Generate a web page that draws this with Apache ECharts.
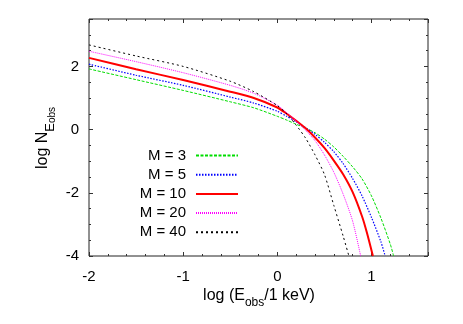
<!DOCTYPE html>
<html>
<head>
<meta charset="utf-8">
<script src="https://cdn.jsdelivr.net/npm/echarts@6/dist/echarts.min.js"></script>
<style>
html,body{margin:0;padding:0;background:#fff;}
#chart{width:463px;height:324px;}
</style>
</head>
<body>
<div id="chart"></div>
<script>
// ---- data ----
const seriesNames = ['M = 3', 'M = 5', 'M = 10', 'M = 20', 'M = 40'];

const xM3 = [-2, -1.5, -1, -0.5, -0.25, 0, 0.1, 0.2, 0.3, 0.4, 0.5, 0.6, 0.7, 0.8, 0.9, 1.0, 1.1, 1.2, 1.235];
const yM3 = [1.92, 1.58, 1.24, 0.88, 0.69, 0.42, 0.30, 0.17, 0.05, -0.10, -0.30, -0.55, -0.85, -1.18, -1.56, -2.10, -2.80, -3.63, -4.0];

const xM5 = [-2, -1.5, -1, -0.5, -0.25, 0, 0.1, 0.2, 0.3, 0.4, 0.5, 0.6, 0.7, 0.8, 0.9, 1.0, 1.1, 1.145];
const yM5 = [2.07, 1.72, 1.40, 1.03, 0.84, 0.58, 0.42, 0.25, 0.06, -0.15, -0.40, -0.70, -1.08, -1.55, -2.10, -2.78, -3.55, -4.0];

const xM10 = [-2, -1.5, -1, -0.5, -0.25, 0, 0.1, 0.2, 0.3, 0.4, 0.5, 0.6, 0.7, 0.8, 0.9, 0.95, 1.015];
const yM10 = [2.27, 1.91, 1.57, 1.20, 1.00, 0.70, 0.50, 0.28, 0.04, -0.25, -0.58, -0.98, -1.42, -1.98, -2.75, -3.25, -4.0];

const xM20 = [-2, -1.5, -1, -0.5, -0.25, 0, 0.1, 0.2, 0.3, 0.4, 0.5, 0.6, 0.7, 0.8, 0.885];
const yM20 = [2.48, 2.15, 1.80, 1.40, 1.15, 0.77, 0.53, 0.27, -0.02, -0.35, -0.80, -1.35, -2.05, -2.90, -4.0];

const xM40 = [-2, -1.5, -1, -0.5, -0.25, 0, 0.1, 0.2, 0.3, 0.4, 0.5, 0.6, 0.7, 0.76];
const yM40 = [2.68, 2.33, 2.00, 1.53, 1.20, 0.76, 0.50, 0.14, -0.27, -0.80, -1.42, -2.40, -3.38, -4.0];

const xTickLabels = [-2, -1, 0, 1];
const yTickLabels = [-4, -2, 0, 2];

// ---- styling ----
const FONT = "'Liberation Sans', Arial, Helvetica, sans-serif";
const styles = [
  {color: '#00dd00', width: 1, type: [3, 1.5]},
  {color: '#0000ff', width: 1.2, type: [1.5, 1.5]},
  {color: '#ff0000', width: 2, type: 'solid'},
  {color: '#ff00ff', width: 1, type: [1, 1]},
  {color: '#000000', width: 1, type: [2, 3]}
];
const xs = [xM3, xM5, xM10, xM20, xM40];
const ys = [yM3, yM5, yM10, yM20, yM40];

function pairs(x, y) { return x.map((v, i) => [v, y[i]]); }

const XMIN = -2, XMAX = 1.6, YMIN = -4, YMAX = 3.5;
const tickColor = '#333';

function labelFmt(list) {
  return function (v) {
    for (const t of list) { if (Math.abs(v - t) < 1e-6) return String(t); }
    return '';
  };
}

function xAx(pos, interval, len, labels) {
  return {
    type: 'value', min: XMIN, max: XMAX, interval: interval, position: pos,
    axisLine: {show: false, onZero: false},
    axisTick: {show: true, inside: true, length: len, lineStyle: {color: tickColor, width: 1}},
    axisLabel: labels ? {show: true, formatter: labelFmt(xTickLabels), color: '#000', fontSize: 15, fontFamily: FONT, margin: 13, showMaxLabel: false} : {show: false},
    splitLine: {show: false}
  };
}
function yAx(pos, interval, len, labels) {
  return {
    type: 'value', min: YMIN, max: YMAX, interval: interval, position: pos,
    axisLine: {show: false, onZero: false},
    axisTick: {show: true, inside: true, length: len, lineStyle: {color: tickColor, width: 1}},
    axisLabel: labels ? {show: true, formatter: labelFmt(yTickLabels), color: '#000', fontSize: 15, fontFamily: FONT, margin: 10, showMaxLabel: false} : {show: false},
    splitLine: {show: false}
  };
}

const chart = echarts.init(document.getElementById('chart'), null, {renderer: 'canvas'});
const option = {
  animation: false,
  backgroundColor: '#fff',
  grid: {left: 89, right: 35, top: 19, bottom: 68, show: true, borderColor: '#222', borderWidth: 1, backgroundColor: 'transparent', containLabel: false},
  xAxis: [xAx('bottom', 0.2, 2, true), xAx('bottom', 1, 4, false), xAx('top', 0.2, 2, false), xAx('top', 1, 4, false)],
  yAxis: [yAx('left', 0.5, 2, true), yAx('left', 2, 4, false), yAx('right', 0.5, 2, false), yAx('right', 2, 4, false)],
  legend: {
    orient: 'vertical', align: 'right', right: 224, top: 146, padding: 0,
    itemWidth: 42, itemHeight: 10, itemGap: 0.2,
    itemStyle: {opacity: 0, borderWidth: 0},
    textStyle: {fontSize: 15, fontFamily: FONT, color: '#000', lineHeight: 19, padding: [0, 5, 0, 0]},
    data: seriesNames
  },
  graphic: [
    {
      type: 'text', x: 259, y: 296,
      style: {
        text: '{a|log (E}{b|obs}{a|/1 keV)}',
        align: 'center', verticalAlign: 'middle',
        rich: {
          a: {fontSize: 16, fontFamily: FONT, fill: '#000', lineHeight: 26},
          b: {fontSize: 12, fontFamily: FONT, fill: '#000', lineHeight: 10, verticalAlign: 'bottom'}
        }
      }
    },
    {
      type: 'text', x: 43, y: 138, rotation: Math.PI / 2,
      style: {
        text: '{a|log N}{b|E}{c|obs}',
        align: 'center', verticalAlign: 'middle',
        rich: {
          a: {fontSize: 16, fontFamily: FONT, fill: '#000', lineHeight: 28},
          b: {fontSize: 13, fontFamily: FONT, fill: '#000', lineHeight: 17, verticalAlign: 'bottom'},
          c: {fontSize: 10, fontFamily: FONT, fill: '#000', lineHeight: 9, verticalAlign: 'bottom'}
        }
      }
    }
  ],
  series: seriesNames.map((name, i) => ({
    name: name, type: 'line', xAxisIndex: 0, yAxisIndex: 0,
    data: pairs(xs[i], ys[i]),
    symbol: 'none', smooth: 0.25, clip: true,
    lineStyle: styles[i],
    itemStyle: {color: styles[i].color},
    z: 3
  }))
};
chart.setOption(option);
</script>
</body>
</html>
